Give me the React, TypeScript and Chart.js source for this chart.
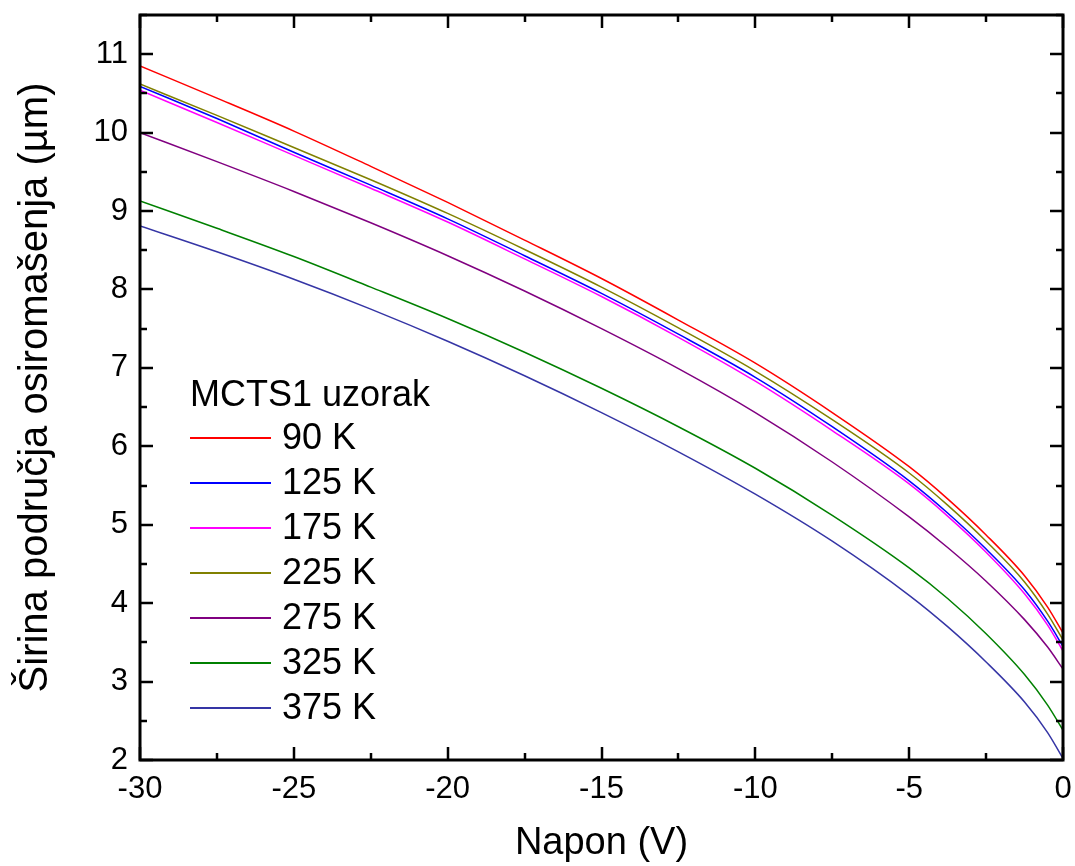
import React, { useEffect, useRef } from "react";
import { Chart, registerables } from "chart.js";

Chart.register(...registerables);

// Reverse bias voltage (V)
const VOLTAGE = [-30, -27.5, -25, -22.5, -20, -17.5, -15, -12.5, -10, -7.5, -5, -3.75, -2.5, -1.25, -0.5, 0];

// Depletion width (µm) per temperature
const W_90K = [10.85, 10.44, 10.02, 9.57, 9.11, 8.63, 8.14, 7.61, 7.06, 6.43, 5.74, 5.33, 4.87, 4.35, 3.95, 3.62];
const W_125K = [10.59, 10.18, 9.75, 9.33, 8.9, 8.43, 7.95, 7.43, 6.88, 6.25, 5.56, 5.15, 4.69, 4.17, 3.77, 3.45];
const W_175K = [10.54, 10.13, 9.71, 9.29, 8.86, 8.39, 7.91, 7.39, 6.83, 6.2, 5.52, 5.11, 4.65, 4.12, 3.72, 3.39];
const W_225K = [10.62, 10.22, 9.81, 9.4, 8.97, 8.51, 8.03, 7.51, 6.96, 6.34, 5.66, 5.25, 4.79, 4.27, 3.86, 3.53];
const W_275K = [10.0, 9.63, 9.25, 8.85, 8.43, 7.98, 7.5, 6.99, 6.43, 5.8, 5.1, 4.71, 4.28, 3.79, 3.44, 3.16];
const W_325K = [9.13, 8.78, 8.42, 8.03, 7.63, 7.2, 6.74, 6.25, 5.72, 5.12, 4.45, 4.06, 3.61, 3.09, 2.7, 2.38];
const W_375K = [8.81, 8.48, 8.13, 7.75, 7.34, 6.9, 6.43, 5.93, 5.39, 4.79, 4.1, 3.7, 3.25, 2.74, 2.35, 2.02];

const LABELS = ["90 K", "125 K", "175 K", "225 K", "275 K", "325 K", "375 K"];
const COLORS = ["#ff0000", "#0000ff", "#ff00ff", "#808000", "#800080", "#008000", "#3535a5"];
const SERIES = [W_90K, W_125K, W_175K, W_225K, W_275K, W_325K, W_375K];

const LEGEND_TITLE = "MCTS1 uzorak";
const X_TITLE = "Napon (V)";
const Y_TITLE = "Širina područja osiromašenja (µm)";

const FONT = "'Liberation Sans', Arial, sans-serif";

const frameTicksPlugin = {
  id: "frameTicks",
  afterDraw(chart: any) {
    const { ctx, chartArea } = chart;
    const { left, right, top, bottom } = chartArea;
    const xs = chart.scales.x;
    const ys = chart.scales.y;
    ctx.save();
    ctx.strokeStyle = "#000";
    ctx.lineWidth = 2.5;
    ctx.lineCap = "butt";
    for (let v = xs.min; v <= xs.max + 1e-9; v += 2.5) {
      const px = Math.round(xs.getPixelForValue(v));
      const major = Math.abs(v / 5 - Math.round(v / 5)) < 1e-6;
      const len = major ? 13 : 7;
      ctx.beginPath();
      ctx.moveTo(px, bottom);
      ctx.lineTo(px, bottom - len);
      ctx.moveTo(px, top);
      ctx.lineTo(px, top + len);
      ctx.stroke();
    }
    for (let v = ys.min; v <= ys.max + 1e-9; v += 0.5) {
      const py = Math.round(ys.getPixelForValue(v));
      const major = Math.abs(v - Math.round(v)) < 1e-6;
      const len = major ? 13 : 7;
      ctx.beginPath();
      ctx.moveTo(left, py);
      ctx.lineTo(left + len, py);
      ctx.moveTo(right, py);
      ctx.lineTo(right - len, py);
      ctx.stroke();
    }
    ctx.lineWidth = 3;
    ctx.strokeRect(left, top, right - left, bottom - top);
    ctx.restore();
  },
};

const legendPlugin = {
  id: "insideLegend",
  afterDraw(chart: any) {
    const { ctx } = chart;
    ctx.save();
    ctx.fillStyle = "#000";
    ctx.font = `36px ${FONT}`;
    ctx.textBaseline = "alphabetic";
    ctx.textAlign = "left";
    ctx.fillText(LEGEND_TITLE, 190, 406);
    const y0 = 438;
    const dy = 45;
    chart.data.datasets.forEach((ds: any, i: number) => {
      const y = y0 + i * dy;
      ctx.strokeStyle = ds.borderColor;
      ctx.lineWidth = 2;
      ctx.beginPath();
      ctx.moveTo(190, y);
      ctx.lineTo(271, y);
      ctx.stroke();
      ctx.textBaseline = "middle";
      ctx.fillStyle = "#000";
      ctx.fillText(ds.label, 282, y + 1);
    });
    ctx.restore();
  },
};

export default function App() {
  const ref = useRef<HTMLCanvasElement | null>(null);
  useEffect(() => {
    if (!ref.current) return;
    const chart = new Chart(ref.current, {
      type: "line",
      data: {
        datasets: SERIES.map((s, i) => ({
          label: LABELS[i],
          data: VOLTAGE.map((v, j) => ({ x: v, y: s[j] })),
          borderColor: COLORS[i],
          backgroundColor: COLORS[i],
          borderWidth: 1.5,
          pointRadius: 0,
          cubicInterpolationMode: "monotone" as const,
          fill: false,
        })),
      },
      options: {
        animation: false,
        responsive: false,
        maintainAspectRatio: false,
        layout: { autoPadding: false, padding: { top: 15, right: 12, left: 0, bottom: 0 } },
        plugins: { legend: { display: false }, tooltip: { enabled: false } },
        scales: {
          x: {
            type: "linear",
            min: -30,
            max: 0,
            position: "bottom",
            grid: { display: false, drawTicks: false },
            border: { display: false },
            ticks: {
              stepSize: 5,
              color: "#000",
              font: { family: FONT, size: 31 },
              padding: 11,
              maxRotation: 0,
            },
            title: {
              display: true,
              text: X_TITLE,
              color: "#000",
              font: { family: FONT, size: 38 },
              padding: { top: 6, bottom: 0 },
            },
            afterFit(s: any) {
              s.height = 106;
              s.paddingLeft = 0;
              s.paddingRight = 0;
            },
          },
          y: {
            type: "linear",
            min: 2,
            max: 11.5,
            grid: { display: false, drawTicks: false },
            border: { display: false },
            ticks: {
              stepSize: 1,
              color: "#000",
              font: { family: FONT, size: 31 },
              padding: 12,
              callback: (v: any) => (Number.isInteger(v) ? String(v) : ""),
            },
            title: {
              display: true,
              text: Y_TITLE,
              color: "#000",
              font: { family: FONT, size: 40 },
              padding: { top: 12, bottom: 8 },
            },
            afterFit(s: any) {
              s.width = 140;
              s.paddingTop = 0;
              s.paddingBottom = 0;
            },
          },
        },
      },
      plugins: [frameTicksPlugin, legendPlugin],
    });
    return () => chart.destroy();
  }, []);
  return (
    <div style={{ position: "fixed", left: 0, top: 0, width: 1075, height: 866, background: "#fff" }}>
      <canvas ref={ref} width={1075} height={866} style={{ width: 1075, height: 866 }} />
    </div>
  );
}
